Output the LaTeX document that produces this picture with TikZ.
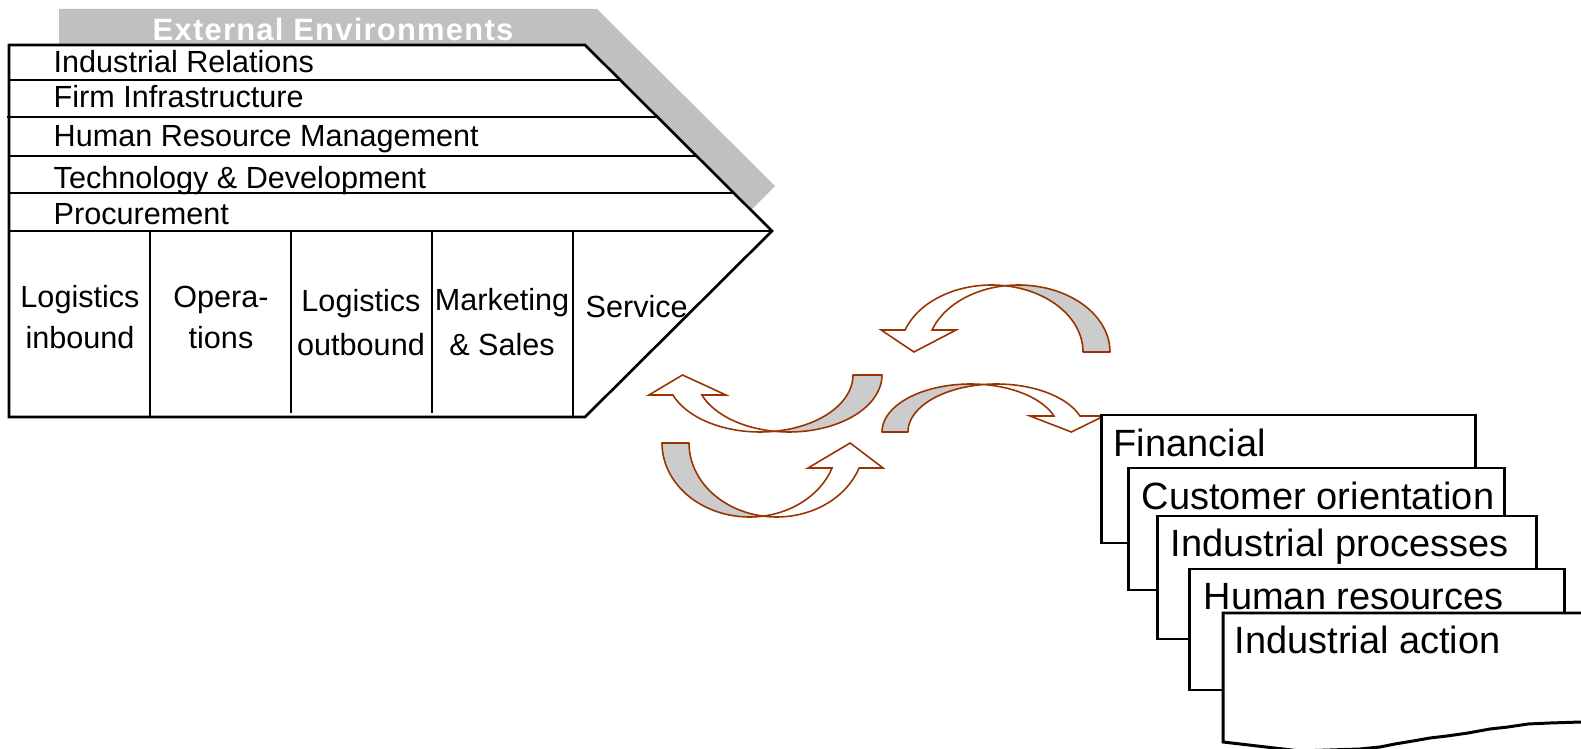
\documentclass[tikz,border=0pt]{standalone}
\usepackage{fontspec}
\setmainfont{Liberation Sans}
\newfontfamily\hdrfont[LetterSpace=4]{Liberation Sans}
\definecolor{arrbrown}{RGB}{153,51,0}
\definecolor{arrgray}{RGB}{204,204,204}
\definecolor{bandgray}{RGB}{192,192,192}
\tikzset{
  lbl/.style={inner sep=0pt, font=\fontsize{8.7}{10}\selectfont},
  hdr/.style={inner sep=0pt, text=white, font=\hdrfont\bfseries\fontsize{8.8}{10}\selectfont},
  cardtxt/.style={inner sep=0pt, anchor=base west, font=\fontsize{10.8}{12}\selectfont},
  card/.style={draw=black, fill=white, line width=0.85pt},
  chev/.style={draw=black, line width=0.75pt},
  arrback/.style={draw=arrbrown, fill=arrgray, line width=0.45pt, line join=round},
  arrfront/.style={draw=arrbrown, fill=white, line width=0.45pt, line join=miter},
}
% curved block arrow: #1 centre of tail-outer ellipse, #2 centre of tail-inner ellipse,
% #3 baseline y, #4 x radius, #5 y radius, #6 -1 arc above / +1 arc below,
% #7 head length, #8 +1 tail on right / -1 tail on left
\newcommand\ppcurve[8]{%
  \pgfmathsetmacro\qcA{#1}\pgfmathsetmacro\qcB{#2}\pgfmathsetmacro\qcY{#3}%
  \pgfmathsetmacro\qrX{#4}\pgfmathsetmacro\qrY{#5}\pgfmathsetmacro\qsV{#6}%
  \pgfmathsetmacro\qhD{#7}\pgfmathsetmacro\qhS{#8}%
  \pgfmathsetmacro\qtT{90-90*\qhS}%
  \pgfmathsetmacro\qtN{90+\qhS*(90-asin(\qhD/\qrY))}%
  \pgfmathsetmacro\qtA{acos((\qcB-\qcA)/(2*\qrX))}%
  \pgfmathsetmacro\qtB{acos((\qcA-\qcB)/(2*\qrX))}%
  \pgfmathsetmacro\qnO{\qcB+\qrX*cos(\qtN)}%
  \pgfmathsetmacro\qnI{\qcA+\qrX*cos(\qtN)}%
  \pgfmathsetmacro\qnY{\qcY+\qsV*\qhD}%
  \pgfmathsetmacro\qbO{\qnO-\qhS*24}%
  \pgfmathsetmacro\qbI{\qnI+\qhS*24}%
  \pgfmathsetmacro\qtX{\qnO+0.33*(\qnI-\qnO)}%
  \filldraw[arrback] plot[domain=\qtT:\qtA,samples=40] ({\qcA+\qrX*cos(\x)},{\qcY+\qsV*\qrY*sin(\x)})
     -- plot[domain=\qtB:\qtT,samples=40] ({\qcB+\qrX*cos(\x)},{\qcY+\qsV*\qrY*sin(\x)}) -- cycle;
  \filldraw[arrfront] plot[domain=\qtB:\qtN,samples=40] ({\qcB+\qrX*cos(\x)},{\qcY+\qsV*\qrY*sin(\x)})
     -- (\qbO,\qnY) -- (\qtX,\qcY) -- (\qbI,\qnY)
     -- plot[domain=\qtN:\qtA,samples=40] ({\qcA+\qrX*cos(\x)},{\qcY+\qsV*\qrY*sin(\x)}) -- cycle;
}
\begin{document}
\begin{tikzpicture}[x=0.01cm,y=-0.01cm]
\useasboundingbox (0,0) rectangle (1581,749);
\clip (0,0) rectangle (1581,749);

% grey frame behind the value chain
\fill[bandgray] (59,9) -- (597,9) -- (775,186) -- (745,216) -- (59,216) -- cycle;
\node[hdr, anchor=base] (ext) at (333,41) {External Environments};

% chevron
\filldraw[chev, fill=white] (9,45) -- (585,45) -- (772,231) -- (585,417) -- (9,417) -- cycle;
\draw[chev] (9,80) -- (620,80);
\draw[chev] (7,117) -- (657,117);
\draw[chev] (9,156) -- (697,156);
\draw[chev] (9,193) -- (734,193);
\draw[chev] (9,231) -- (772,231);
\draw[chev] (150,231) -- (150,417);
\draw[chev] (291,231) -- (291,413);
\draw[chev] (432,231) -- (432,413);
\draw[chev] (573,231) -- (573,417);

\node[lbl, anchor=base west] (ir) at (53,73) {Industrial Relations};
\node[lbl, anchor=base west] (fi) at (53,108) {Firm Infrastructure};
\node[lbl, anchor=base west] (hrm) at (53,147) {Human Resource Management};
\node[lbl, anchor=base west] (td) at (53,189) {Technology \& Development};
\node[lbl, anchor=base west] (pr) at (53,225) {Procurement};

\node[lbl, anchor=base] (li1) at (80,308) {Logistics};
\node[lbl, anchor=base] (li2) at (80,349) {inbound};
\node[lbl, anchor=base] (op1) at (221,308) {Opera-};
\node[lbl, anchor=base] (op2) at (221,349) {tions};
\node[lbl, anchor=base] (lo1) at (361,312) {Logistics};
\node[lbl, anchor=base] (lo2) at (361,356) {outbound};
\node[lbl, anchor=base] (ms1) at (502,311) {Marketing};
\node[lbl, anchor=base] (ms2) at (502,356) {\& Sales};
\node[lbl, anchor=base west] (sv) at (585,318) {Service};

% curved arrows
\ppcurve{1018.5}{991.5}{352}{91.5}{67}{-1}{22}{1}
\ppcurve{789}{760}{375}{93}{57}{1}{20}{1}
\ppcurve{749.6}{776.6}{443}{87.6}{74}{1}{25}{-1}
\ppcurve{970.5}{996.5}{432}{88.5}{48}{-1}{16}{-1}

% stacked cards
\draw[card] (1101,415) rectangle (1475,543);
\node[cardtxt] (fin) at (1113,457) {Financial};
\draw[card] (1128,468) rectangle (1504,590);
\node[cardtxt] (cus) at (1141,510) {Customer orientation};
\draw[card] (1157,516) rectangle (1536,639);
\node[cardtxt] (ipr) at (1170,557) {Industrial processes};
\draw[card] (1189,569) rectangle (1564,690);
\node[cardtxt] (hur) at (1203,610) {Human resources};
\draw[card] (1223,742) -- (1223,613) -- (1600,613) -- (1600,722) -- (1581,722) -- (1550,723)
  -- (1528,724) -- (1508,727) -- (1490,729) -- (1468,733) -- (1447,736) -- (1430,738)
  -- (1413,741) -- (1395,744) -- (1380,747) -- (1360,749) -- (1300,751) -- cycle;
\node[cardtxt] (iac) at (1234,654) {Industrial action};
\end{tikzpicture}
\end{document}
